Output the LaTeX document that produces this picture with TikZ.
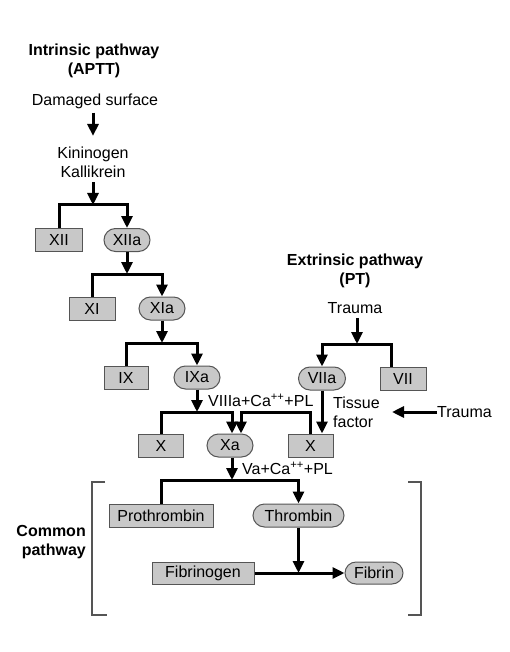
\documentclass[tikz,border=0pt]{standalone}
\usepackage{fontspec}
\setmainfont{Liberation Sans}
\usetikzlibrary{arrows.meta,calc}
\definecolor{boxgray}{RGB}{200,200,200}
\definecolor{edgegray}{RGB}{85,85,85}
\begin{document}
\begin{tikzpicture}[x=1pt,y=-1pt,
  every node/.style={font=\fontsize{16}{19}\selectfont, inner sep=0pt},
  sq/.style={draw=edgegray, line width=1pt, fill=boxgray, minimum height=23pt},
  rd/.style={sq, rounded corners=11.5pt},
  conn/.style={line width=3pt},
  arr/.style={conn, -{Triangle[width=11pt,length=12pt]}},
  ttl/.style={font=\bfseries\fontsize{16}{19}\selectfont, align=center},
  brk/.style={line width=1.3pt, draw=edgegray}
]
\path[use as bounding box] (0,0) rectangle (510,652);

% Intrinsic pathway
\node[ttl] (intr) at (94,60.5) {Intrinsic pathway\\(APTT)};
\node (dmg) at (95,101) {Damaged surface};
\node[align=center] (kin) at (93,162.5) {Kininogen\\Kallikrein};
\draw[arr, shorten <=4pt, shorten >=11pt] (dmg.south -| kin.north) -- (kin.north);

\coordinate (b1) at (93,205);
\node[sq, minimum width=47pt] (XII) at (59,240) {XII};
\node[rd, minimum width=46pt] (XIIa) at (127,240) {XIIa};
\draw[arr, shorten <=4pt] (kin.south) -- (b1);
\draw[arr] (XII.north) |- (b1) -| (XIIa.north);

\coordinate (b2) at (127,274);
\node[sq, minimum width=46pt] (XI) at (92,308.5) {XI};
\node[rd, minimum width=46pt] (XIa) at (162,308.5) {XIa};
\draw[arr] (XIIa.south) -- (b2);
\draw[arr] (XI.north) |- (b2) -| (XIa.north);

\coordinate (b3) at (162,343);
\node[sq, minimum width=44pt] (IX) at (126,377.5) {IX};
\node[rd, minimum width=46pt] (IXa) at (197,377.5) {IXa};
\draw[arr] (XIa.south) -- (b3);
\draw[arr] (IX.north) |- (b3) -| (IXa.north);

\coordinate (b4) at (197,412);
\node[sq, minimum width=45pt] (X1) at (161,445.5) {X};
\node[rd, minimum width=46pt] (Xa) at (230,445.5) {Xa};
\node[sq, minimum width=45pt] (X2) at (310.5,445.5) {X};
\draw[arr] (IXa.south) -- (b4);
\draw[arr] (X1.north) |- (b4) -| ($(Xa.north)+(2,0)$);
\draw[arr] (X2.north) -- (X2.north |- b4) -| ($(Xa.north)+(11,0)$);
\node[anchor=west] (lab1) at (208,400) {VIIIa+Ca\textsuperscript{++}+PL};

% Extrinsic pathway
\node[ttl] (extr) at (355,270.5) {Extrinsic pathway\\(PT)};
\node (tr1) at (355,308) {Trauma};
\coordinate (b8) at (357,344);
\node[rd, minimum width=47pt] (VIIa) at (322,378.5) {VIIa};
\node[sq, minimum width=46pt] (VII) at (403,378.5) {VII};
\draw[arr, shorten <=4pt] (tr1.south -| b8) -- (b8);
\draw[arr] ($(VII.north)+(-12,0)$) |- (b8) -| (VIIa.north);
\draw[arr] (VIIa.south) -- ($(X2.north)+(11.5,0)$);
\node[anchor=west, align=left] (tf) at (333,412.5) {Tissue\\factor};
\node[anchor=west] (tr2) at (437,412) {Trauma};
\coordinate (tfend) at (392,412);
\draw[arr] (tr2.west) -- (tfend);

% Common pathway
\coordinate (b6) at (232,480);
\node[anchor=west] (lab2) at (242,468) {Va+Ca\textsuperscript{++}+PL};
\node[sq, minimum width=104pt] (pro) at (161,515.5) {Prothrombin};
\node[rd, minimum width=91pt] (thr) at (298.5,515.5) {Thrombin};
\draw[arr] ($(Xa.south)+(2,0)$) -- (b6);
\draw[arr] (pro.north) |- (b6) -| (thr.north);

\coordinate (b7) at (298.5,573);
\node[sq, minimum width=102pt, minimum height=22pt] (fgn) at (203,573) {Fibrinogen};
\node[rd, minimum width=58pt, minimum height=22pt, rounded corners=11pt] (fib) at (374,573) {Fibrin};
\draw[arr] (thr.south) -- (b7);
\draw[arr] (fgn.east) -- (fib.west);

\node[ttl, anchor=east, align=right] (com) at (86,542.5) {Common\\pathway};
\draw[brk] (105,482) -- (92,482) -- (92,615) -- (107,615);
\draw[brk] (408,482) -- (421,482) -- (421,615) -- (408,615);
\end{tikzpicture}
\end{document}
